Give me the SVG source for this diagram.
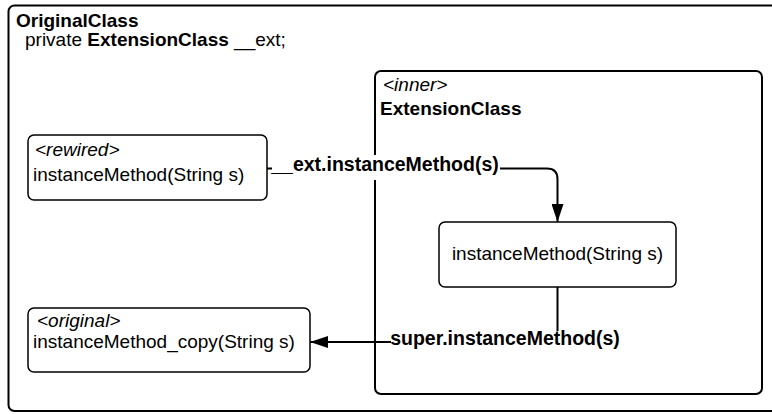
<svg xmlns="http://www.w3.org/2000/svg" width="772" height="414" viewBox="0 0 772 414">
<style>
text{font-family:"Liberation Sans",Arial,sans-serif;font-size:19px;fill:#000}
.b{font-weight:bold}
.i{font-style:italic}
.cl{font-weight:bold;font-size:19.5px}
.box{fill:#fff;stroke:#000;stroke-width:1.5}
.big{fill:none;stroke:#000;stroke-width:2}
.conn{fill:none;stroke:#000;stroke-width:2}
.lbl{fill:#fff;stroke:none}
</style>
<defs>
<marker id="ah" markerUnits="userSpaceOnUse" markerWidth="18" markerHeight="12" refX="18" refY="6" orient="auto">
<path d="M0,0 L18,6 L0,12 z" fill="#000"/>
</marker>
</defs>
<rect width="772" height="414" fill="#fff"/>
<g id="OriginalClass">
<rect class="big" x="8.5" y="5.5" width="772" height="405.5" rx="6"/>
<text class="b" x="16" y="27">OriginalClass</text>
<text x="25" y="46">private <tspan class="b">ExtensionClass</tspan> __ext;</text>
</g>
<g id="ExtensionClass">
<rect class="big" x="375" y="71" width="387" height="323" rx="6"/>
<text class="i" x="383" y="91">&lt;inner&gt;</text>
<text class="b" x="380" y="115">ExtensionClass</text>
</g>
<g id="rewired">
<rect class="box" x="28" y="135" width="239" height="65" rx="6"/>
<text class="i" x="35" y="156">&lt;rewired&gt;</text>
<text x="33" y="181">instanceMethod(String s)</text>
</g>
<g id="extMethod">
<rect class="box" x="439" y="222" width="237" height="65" rx="6"/>
<text x="557.5" y="260" text-anchor="middle">instanceMethod(String s)</text>
</g>
<g id="original">
<rect class="box" x="28" y="308" width="282" height="64" rx="6"/>
<text class="i" x="37" y="327">&lt;original&gt;</text>
<text x="33" y="348">instanceMethod_copy(String s)</text>
</g>
<g id="connectors">
<path class="conn" d="M267,168.5 H547 Q557.5,168.5 557.5,179 V222" marker-end="url(#ah)"/>
<rect class="lbl" x="272" y="155" width="228" height="25"/>
<text class="cl" x="385" y="171" text-anchor="middle">__ext.instanceMethod(s)</text>
<path class="conn" d="M557.5,287 V342 H310" marker-end="url(#ah)"/>
<rect class="lbl" x="391" y="331" width="229" height="22"/>
<text class="cl" x="505" y="345" text-anchor="middle">super.instanceMethod(s)</text>
</g>
</svg>
